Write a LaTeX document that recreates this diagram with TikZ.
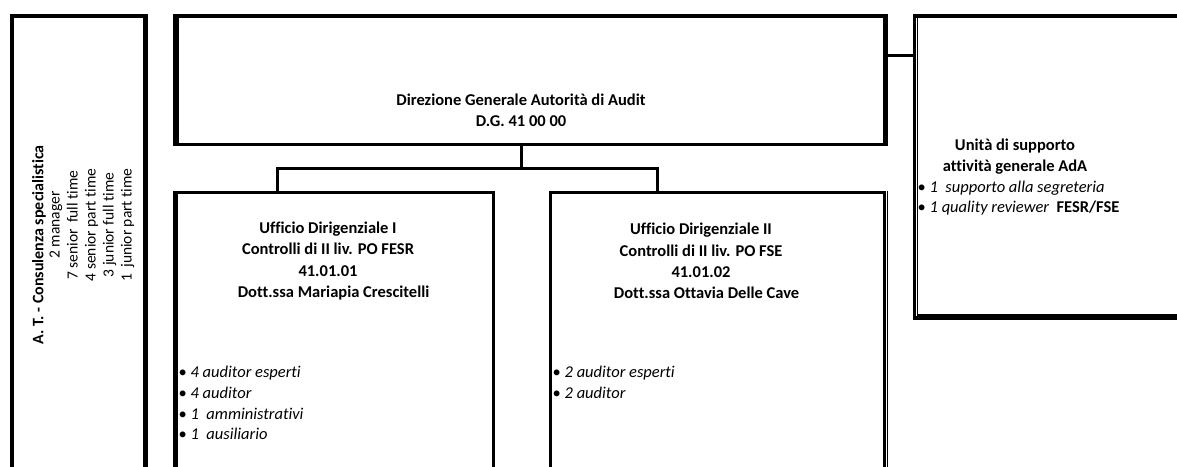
\documentclass[tikz,border=0pt]{standalone}
\usepackage{fontspec}
\setmainfont[Ligatures=NoCommon]{Carlito}
\begin{document}
\begin{tikzpicture}[x=1pt,y=-1pt,
  box/.style={draw, line width=3.5pt, outer sep=0pt, inner sep=0pt, anchor=north west},
  thinline/.style={line width=1.2pt},
  conn/.style={line width=3pt},
  lbl/.style={align=center, font=\bfseries\fontsize{16.5}{21.3}\selectfont, inner sep=0pt},
  lst/.style={align=left, font=\itshape\fontsize{16.5}{20.7}\selectfont, inner sep=0pt, anchor=west},
  side/.style={align=center, rotate=90, font=\fontsize{15.5}{18}\selectfont, inner sep=0pt}]
\useasboundingbox (0,0) rectangle (1177,466);
\clip (0,0) rectangle (1177,466);
% boxes
\node[box, minimum width=133pt, minimum height=500pt] (at) at (12,16) {};
\node[box, minimum width=708pt, minimum height=128.5pt] (dg) at (177,16) {};
\node[box, minimum width=400pt, minimum height=302pt] (us) at (914.5,16) {};
\node[box, minimum width=317.5pt, minimum height=400pt] (u1) at (176,192.5) {};
\node[box, minimum width=334pt, minimum height=400pt] (u2) at (550.5,192.5) {};
% thin companion lines
\draw[thinline] ([xshift=2.7pt,yshift=1.8pt]at.north east) -- ([xshift=2.7pt]at.south east);
\draw[thinline] ([xshift=-3pt,yshift=1.8pt]dg.north west) -- ([xshift=-3pt,yshift=-1.8pt]dg.south west);
\draw[thinline] ([xshift=2.6pt,yshift=1.8pt]dg.north east) -- ([xshift=2.6pt,yshift=-1.8pt]dg.south east);
\draw[thinline] ([xshift=3.1pt,yshift=-1.8pt]us.north west) |- ([yshift=3.1pt]us.south east);
\draw[thinline] ([xshift=-2.5pt,yshift=1.8pt]u1.north west) -- ([xshift=-2.5pt]u1.south west);
\draw[thinline] ([xshift=3.1pt,yshift=1.8pt]u2.north east) -- ([xshift=3.1pt]u2.south east);
% connectors
\coordinate (jt) at (521,168);
\coordinate (jl) at (277,168);
\coordinate (jr) at (657,168);
\coordinate (rc) at (900,55);
\draw[conn] (jt |- dg.south) -- (jt);
\draw[conn] (u1.north -| jl) -- (jl) -- (jr) -- (u2.north -| jr);
\draw[conn] (rc -| dg.east) -- (rc -| us.west);
% texts
\node[side, font=\bfseries\fontsize{16}{18}\selectfont] (tat) at (39,245) {A. T. - Consulenza specialistica};
\node[side] (tatl) at (92,225) {2 manager\\7 senior\, full time\\4 senior part time\\3 junior full time\\1\, junior part time};
\node[lbl] (tdg) at (521,110) {Direzione Generale Autorità di Audit\\D.G. 41 00 00};
\node[lbl] (tus) at (1015,156.5) {Unità di supporto\\attività generale AdA};
\node[lst] (bus) at (917.5,198) {\textup{\textbullet}\ 1\ \ supporto alla segreteria\\\textup{\textbullet}\ 1 quality reviewer\ \ \textbf{\upshape FESR/FSE}};
\node[lbl] (tu1) at (328,261) {Ufficio Dirigenziale I\\Controlli di II liv. PO FESR\\41.01.01\\\ \ \ Dott.ssa Mariapia Crescitelli};
\node[lst] (bu1) at (178.5,403) {\textup{\textbullet}\ 4 auditor esperti\\\textup{\textbullet}\ 4 auditor\\\textup{\textbullet}\ 1\ \ amministrativi\\\textup{\textbullet}\ 1\ \ ausiliario};
\node[lbl] (tu2) at (701,261) {Ufficio Dirigenziale II\\Controlli di II liv. PO FSE\\41.01.02\\\ \ \ Dott.ssa Ottavia Delle Cave};
\node[lst] (bu2) at (552.5,382) {\textup{\textbullet}\ 2 auditor esperti\\\textup{\textbullet}\ 2 auditor};
\end{tikzpicture}
\end{document}
